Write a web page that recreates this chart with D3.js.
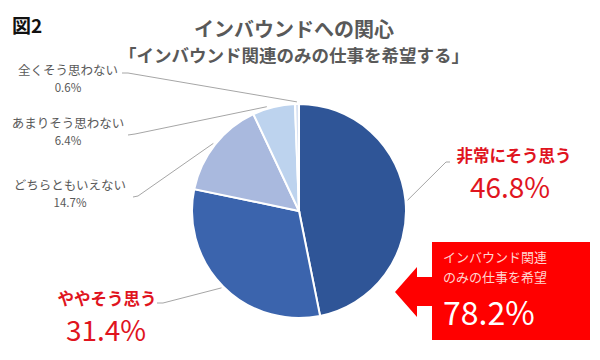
<!DOCTYPE html>
<html><head><meta charset="utf-8">
<script src="https://cdn.jsdelivr.net/npm/d3@7/dist/d3.min.js"></script>
<style>body{margin:0;background:#fff}svg{display:block}text{font-family:"Noto Sans CJK JP","Noto Sans",sans-serif}</style>
</head><body><svg id="c" width="600" height="360"></svg>
<script>
const categories = ["非常にそう思う","ややそう思う","どちらともいえない","あまりそう思わない","全くそう思わない"];
const values = [46.8, 31.4, 14.7, 6.4, 0.6];
const valueLabels = ["46.8%","31.4%","14.7%","6.4%","0.6%"];
const colors = ["#2F5597","#3B64AD","#A9B9DE","#BDD3EE","#DAE3F3"];
const title = "インバウンドへの関心";
const subtitle = "「インバウンド関連のみの仕事を希望する」";
const figLabel = "図2";
const calloutLines = ["インバウンド関連","のみの仕事を希望"];
const calloutValue = "78.2%";

const svg = d3.select("#c");
const cx = 299, cy = 211, R = 107;

svg.append("text").attr("x",12).attr("y",33).attr("font-size",19).attr("font-weight","bold").attr("fill","#111").text(figLabel);
svg.append("text").attr("x",294).attr("y",37).attr("text-anchor","middle").attr("font-size",20).attr("font-weight","bold").attr("fill","#595959").text(title);
svg.append("text").attr("x",294).attr("y",62).attr("text-anchor","middle").attr("font-size",17.5).attr("font-weight","bold").attr("fill","#595959").text(subtitle);

const pie = d3.pie().sort(null).value(d=>d);
const arcs = pie(values);
const arc = d3.arc().innerRadius(0).outerRadius(R);
const g = svg.append("g").attr("transform",`translate(${cx},${cy})`);
g.selectAll("path").data(arcs).join("path")
  .attr("d",arc).attr("fill",(d,i)=>colors[i]).attr("stroke","#fff").attr("stroke-width",2);

// leader lines: label anchor -> point just outside the arc
const lineColor = "#A6A6A6";
const labelSpec = [
  {i:0, anchor:[[450,162],[446,162]], f:0.5},
  {i:1, anchor:[[157,303],[163,303]], f:0.5},
  {i:2, anchor:[[133,197],[138,196]], f:0.5},
  {i:3, anchor:[[128,135],[135,134]], f:0.35},
  {i:4, anchor:[[122,73],[128,73]], f:0.5}
];
const pt = (a, r) => [cx + Math.sin(a)*R*r, cy - Math.cos(a)*R*r];
labelSpec.forEach(s=>{
  const a = arcs[s.i];
  const target = pt(a.startAngle + (a.endAngle-a.startAngle)*s.f, 1.02);
  svg.append("path").attr("d", d3.line()([s.anchor[0], s.anchor[1], target]))
    .attr("fill","none").attr("stroke",lineColor).attr("stroke-width",1);
});

// small labels (gray)
const smallPos = {4:[68,75,92], 3:[68,128,145], 2:[70,190,207]};
[4,3,2].forEach(i=>{
  const [x,y1,y2] = smallPos[i];
  svg.append("text").attr("x",x).attr("y",y1).attr("text-anchor","middle").attr("font-size",12.5).attr("fill","#595959").text(categories[i]);
  svg.append("text").attr("x",x).attr("y",y2).attr("text-anchor","middle").attr("font-size",11.5).attr("fill","#595959").text(valueLabels[i]);
});

// big red labels
const red = "#E0141E";
svg.append("text").attr("x",514).attr("y",162).attr("text-anchor","middle").attr("font-size",16.5).attr("font-weight","bold").attr("fill",red).text(categories[0]);
svg.append("text").attr("x",510).attr("y",198).attr("text-anchor","middle").attr("font-size",28).attr("fill",red).text(valueLabels[0]);
svg.append("text").attr("x",107).attr("y",305).attr("text-anchor","middle").attr("font-size",16.5).attr("font-weight","bold").attr("fill",red).text(categories[1]);
svg.append("text").attr("x",106).attr("y",341).attr("text-anchor","middle").attr("font-size",28).attr("fill",red).text(valueLabels[1]);

// callout arrow box
svg.append("path").attr("d", d3.line()([[395,292],[417,267],[417,277],[432,277],[432,242],[590,242],[590,340],[432,340],[432,306],[417,306],[417,317]]) + "Z")
  .attr("fill","#FF0000");
calloutLines.forEach((t,k)=>{
  svg.append("text").attr("x",443).attr("y",262+k*20).attr("font-size",13).attr("fill","#FFD5D0").text(t);
});
svg.append("text").attr("x",443).attr("y",325).attr("font-size",32).attr("fill","#fff").text(calloutValue);
</script></body></html>
